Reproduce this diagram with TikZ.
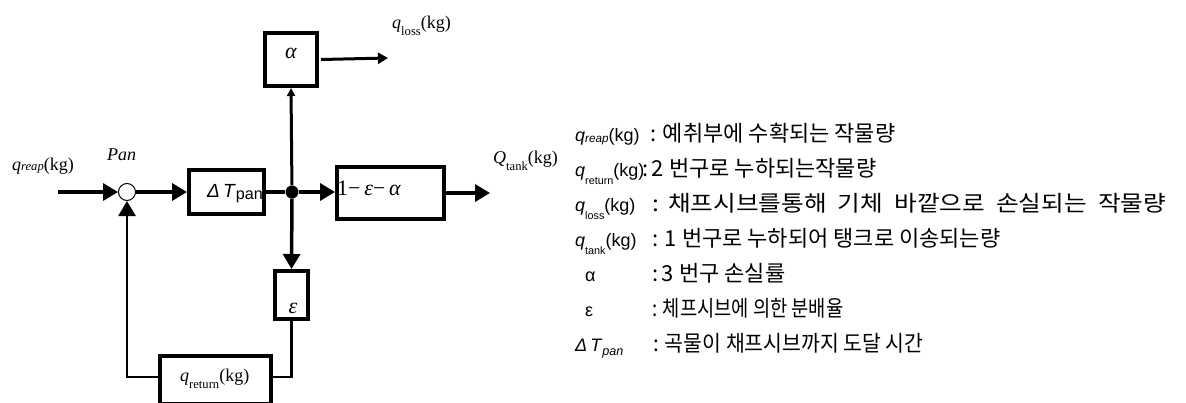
\documentclass[tikz,border=0pt]{standalone}
\usepackage{fontspec}
\setmainfont{Liberation Serif}
\setsansfont{Liberation Sans}
\newfontfamily\kr{Noto Sans CJK KR}
\usetikzlibrary{arrows.meta}
\newcommand\fsz[1]{\fontsize{#1}{#1}\selectfont}
\newcommand\lowsub[3]{\raisebox{#1}{\scalebox{#2}{#3}}}
\begin{document}
\begin{tikzpicture}[x=1pt,y=-1pt,
  blk/.style={draw, line width=4pt, inner sep=0pt, fill=white},
  dg/.style={font=\fsz{18}},
  tx/.style={inner sep=0pt},
  bigtip/.style={-{Triangle[length=15pt,width=17pt]}},
  mainln/.style={line width=3.5pt},
  fbln/.style={line width=2.6pt},
  lg/.style={font=\sffamily\fsz{18}, anchor=base west, inner sep=0pt},
  lk/.style={font=\kr\fsz{22}, anchor=base west, inner sep=0pt}
]
\useasboundingbox (0,0) rectangle (1186,402);
\fill[white] (0,0) rectangle (1186,402);
\clip (0,0) rectangle (1186,402);

% blocks
\node[blk, minimum width=52pt, minimum height=53pt] (al) at (291,59.5) {};
\node[blk, minimum width=75pt, minimum height=44pt] (dt) at (226.5,192) {};
\node[blk, minimum width=107pt, minimum height=52pt] (one) at (390.5,193) {};
\node[blk, minimum width=33pt, minimum height=48pt] (ep) at (291.5,295) {};
\node[blk, minimum width=111pt, minimum height=48pt] (ret) at (215.5,380) {};
\node[circle, draw, line width=1pt, fill=white, minimum size=17pt, inner sep=0pt] (pan) at (127,192) {};
\node[circle, fill, inner sep=0pt, minimum size=13pt] (j) at (292,192) {};

\coordinate (in) at (58,192);
\coordinate (loss) at (388,58);
\coordinate (out) at (490,193);

% connectors
\draw[mainln, bigtip] (in) -- (pan.west);
\draw[mainln, bigtip] (pan) -- (dt.west);
\draw[mainln] (dt.east) -- (j);
\draw[mainln, bigtip] (j) -- (j -| one.west);
\draw[line width=3pt, -{Triangle[length=8pt,width=8pt]}] (j) -- (al.south);
\draw[mainln, bigtip] (j) -- (ep.north);
\draw[line width=3pt, -{Triangle[length=10pt,width=11pt]}] ([xshift=2pt]al.east) -- (loss);
\draw[mainln, bigtip] (one.east) -- (out);
\draw[fbln] (ep.south) |- ([yshift=3pt]ret.east);
\draw[fbln, bigtip] ([yshift=3pt]ret.west) -| (pan.south);

% diagram texts
\node[tx, dg, anchor=base west] (treap) at (12,170) {\textit{q}\lowsub{-0.05em}{0.7}{\textit{reap}}(kg)};
\node[tx, dg, anchor=base west] (tpan) at (107,160) {\textit{Pan}};
\node[tx, dg, anchor=base west] (tloss) at (392,28) {\textit{q}\lowsub{-0.4em}{0.7}{loss}(kg)};
\node[tx, dg, anchor=base west] (ttank) at (493,163) {\textit{Q}\lowsub{-0.4em}{0.7}{tank}(kg)};
\node[tx, dg, anchor=base west] (tret) at (180,381) {\textit{q}\lowsub{-0.4em}{0.7}{return}(kg)};
\node[tx, font=\fsz{22}, anchor=base] (talpha) at (291,58) {\textit{α}};
\node[tx, font=\fsz{22}, anchor=base] (teps) at (293,313) {\textit{ε}};
\node[tx, font=\sffamily\fsz{19}, anchor=base west] (tdt) at (207,197) {\textit{Δ\,T}\lowsub{-0.15em}{0.85}{pan}};
\node[tx, font=\fsz{22}, anchor=base west] (tone) at (337,195) {1−\,\textit{ε}−\,\textit{α}};

% legend
\node[lg] (k1) at (575,141) {\textit{q}\lowsub{-0.1em}{0.65}{\textit{reap}}(kg)};
\node[lg] (k2) at (575,176) {\textit{q}\lowsub{-0.45em}{0.6}{return}(kg)};
\node[lg] (k3) at (575,211) {\textit{q}\lowsub{-0.45em}{0.6}{loss}(kg)};
\node[lg] (k4) at (575,246) {\textit{q}\lowsub{-0.45em}{0.6}{tank}(kg)};
\node[lg] (k5) at (585,281) {α};
\node[lg] (k6) at (585,316) {ε};
\node[lg] (k7) at (575,351) {\textit{Δ\,T}\lowsub{-0.25em}{0.7}{\textit{pan}}};

\node[lk] (d1) at (650,141) {: 예취부에 수확되는 작물량};
\node[lk] (d2) at (642,176) {:\,2 번구로 누하되는작물량};
\node[lk] (d3) at (652,211) {\scalebox{1.12}[1]{:\hspace{8pt}채프시브를통해\hspace{10pt}기체\hspace{10pt}바깥으로\hspace{10pt}손실되는\hspace{10pt}작물량}};
\node[lk] (d4) at (652,246) {: 1 번구로 누하되어 탱크로 이송되는량};
\node[lk] (d5) at (652,281) {:\,3 번구 손실률};
\node[lk] (d6) at (652,316) {\scalebox{0.85}[1]{: 체프시브에 의한 분배율}};
\node[lk] (d7) at (653,351) {\scalebox{0.93}[1]{: 곡물이 채프시브까지 도달 시간}};
\end{tikzpicture}
\end{document}
